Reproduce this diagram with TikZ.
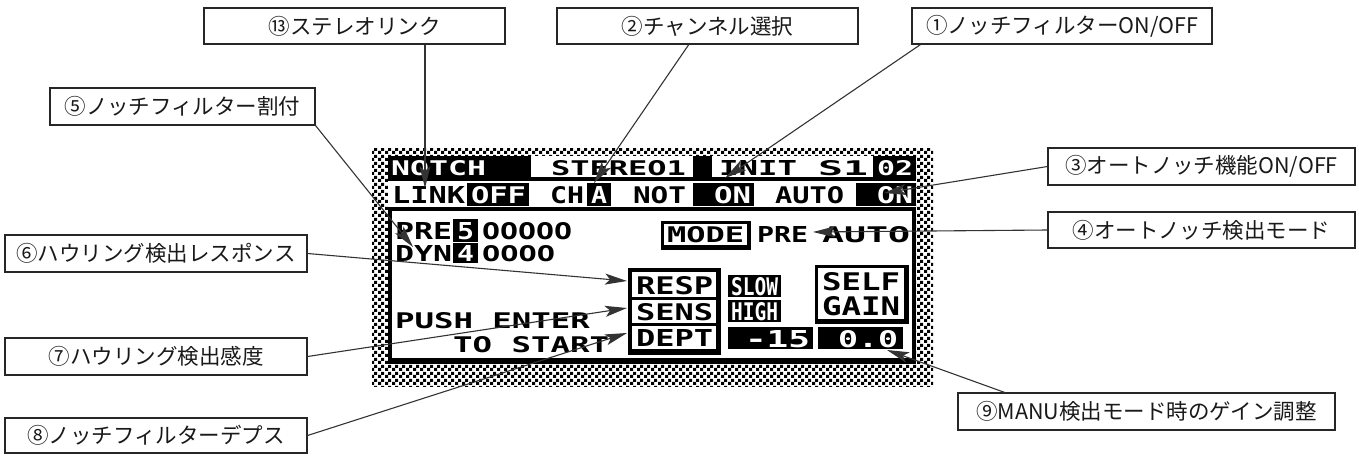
\documentclass[tikz,border=0pt]{standalone}
\usepackage{fontspec}
\usepackage{graphicx}
\usetikzlibrary{arrows.meta,calc,patterns}
\newfontfamily\cjk{Noto Sans CJK JP}
\newfontfamily\lcdfont{DejaVu Sans Mono Bold}
\pgfdeclarepatternformonly{lcdcheck}{\pgfpointorigin}{\pgfqpoint{7pt}{7pt}}{\pgfqpoint{7pt}{7pt}}{%
  \pgfpathrectangle{\pgfpointorigin}{\pgfqpoint{3.5pt}{3.5pt}}%
  \pgfpathrectangle{\pgfqpoint{3.5pt}{3.5pt}}{\pgfqpoint{3.5pt}{3.5pt}}%
  \pgfusepath{fill}}
% name, x1, y1, x2, y2, text, colour
\newcommand\lcdw[7]{\node[lcdtext,text=#7,anchor=north west] (#1) at (#2,#3)
  {\resizebox{\dimexpr#4pt-#2pt\relax}{\dimexpr#5pt-#3pt\relax}{\lcdfont #6}};}
\begin{document}
\begin{tikzpicture}[x=1pt,y=-1pt,
  lbl/.style={draw=black!85,line width=1.1pt,fill=white,inner sep=0pt,
    font=\cjk\fontsize{21.5}{25}\selectfont,text=black!90},
  lcdtext/.style={inner sep=0pt,outer sep=0pt},
  conn/.style={draw=black!80,line width=1.1pt,
    -{Stealth[length=22pt,width=11pt,inset=5pt]}}]
\useasboundingbox (0,0) rectangle (1359,455);

% ---------- LCD ----------
\fill[white] (372,148) rectangle (933,386);
\fill[pattern=lcdcheck,pattern color=black] (372,148) rectangle (933,386);
\fill[white] (388,156) rectangle (916,363);
% row 1
\fill[black] (388,156) rectangle (531,178);
\fill[black] (693,156) rectangle (712,178);
\fill[black] (873,156) rectangle (916,178);
\fill[black] (388,177) rectangle (916,181);
\lcdw{tNotch}{391}{160}{486}{175}{NOTCH}{white}
\lcdw{tStereo}{551}{160}{686}{175}{STEREO1}{black}
\lcdw{tInit}{719}{160}{797}{175}{INIT}{black}
\lcdw{tSone}{818}{160}{868}{175}{S1}{black}
\lcdw{tZtwo}{877}{160}{913}{175}{02}{white}
% row 2
\lcdw{tLink}{392}{186}{465}{203}{LINK}{black}
\fill[black] (467,183) rectangle (529,206);
\lcdw{tOff}{471}{186}{526}{203}{OFF}{white}
\lcdw{tCh}{550}{186}{584}{203}{CH}{black}
\fill[black] (587,183) rectangle (611,206);
\lcdw{tA}{591}{186}{607}{203}{A}{white}
\lcdw{tNot}{633}{186}{686}{203}{NOT}{black}
\fill[black] (693,183) rectangle (754,206);
\lcdw{tOnA}{714}{186}{751}{203}{ON}{white}
\lcdw{tAuto}{775}{186}{844}{203}{AUTO}{black}
\fill[black] (856,183) rectangle (916,206);
\lcdw{tOnB}{877}{186}{913}{203}{ON}{white}
% panel frame
\fill[black] (388,207) rectangle (916,364);
\fill[white] (392,211) rectangle (912,358);
% PRE / DYN
\lcdw{tPre}{395}{222}{452}{239}{PRE}{black}
\fill[black] (453,219) rectangle (478,242);
\lcdw{tFive}{457}{222}{474}{239}{5}{white}
\lcdw{tOs}{482}{222}{572}{239}{OOOOO}{black}
\lcdw{tDyn}{395}{245}{452}{261}{DYN}{black}
\fill[black] (453,243) rectangle (478,263);
\lcdw{tFour}{457}{245}{474}{261}{4}{white}
\lcdw{tOf}{482}{245}{555}{261}{OOOO}{black}
% MODE
\fill[black] (661,221) rectangle (751,250);
\fill[white] (664,224) rectangle (747,245);
\lcdw{tMode}{667}{226}{744}{242}{MODE}{black}
\lcdw{tPreB}{757}{226}{808}{242}{PRE}{black}
\lcdw{tAutoB}{822}{226}{910}{242}{AUTO}{black}
% RESP / SENS / DEPT
\fill[black] (628,268) rectangle (721,355);
\fill[white] (632,272) rectangle (716,297);
\fill[white] (632,300) rectangle (716,323);
\fill[white] (632,326) rectangle (716,349);
\lcdw{tResp}{636}{276}{713}{294}{RESP}{black}
\lcdw{tSens}{636}{303}{713}{320}{SENS}{black}
\lcdw{tDept}{636}{329}{713}{346}{DEPT}{black}
% SLOW / HIGH
\fill[black] (728,275) rectangle (781,297);
\lcdw{tSlow}{731}{277}{778}{295}{SLOW}{white}
\fill[black] (728,300) rectangle (781,322);
\lcdw{tHigh}{731}{302}{778}{320}{HIGH}{white}
% SELF GAIN
\fill[black] (815,265) rectangle (909,324);
\fill[white] (818,268) rectangle (904,319);
\lcdw{tSelf}{822}{272}{900}{290}{SELF}{black}
\lcdw{tGain}{822}{296}{900}{315}{GAIN}{black}
% -15 / 0.0
\fill[black] (728,327) rectangle (813,349);
\lcdw{tMft}{745}{330}{810}{347}{-15}{white}
\fill[black] (818,327) rectangle (903,349);
\lcdw{tZz}{838}{330}{898}{347}{0.0}{white}
% PUSH ENTER TO START
\lcdw{tPush}{395}{312}{590}{328}{PUSH ENTER}{black}
\lcdw{tStart}{453}{336}{609}{352}{TO START}{black}

% ---------- labels ----------
\node[lbl,minimum width=301pt,minimum height=36pt] (n13) at (354.5,26) {⑬ステレオリンク};
\node[lbl,minimum width=301pt,minimum height=36pt] (n2) at (707.5,26) {②チャンネル選択};
\node[lbl,minimum width=300pt,minimum height=36pt] (n1) at (1062,26) {①ノッチフィルターON/OFF};
\node[lbl,minimum width=265pt,minimum height=37pt] (n5) at (182.5,106.5) {⑤ノッチフィルター割付};
\node[lbl,minimum width=307pt,minimum height=37pt] (n3) at (1201.5,166.5) {③オートノッチ機能ON/OFF};
\node[lbl,minimum width=307pt,minimum height=36pt] (n4) at (1201.5,230) {④オートノッチ検出モード};
\node[lbl,minimum width=302pt,minimum height=37pt] (n6) at (156,253.5) {⑥ハウリング検出レスポンス};
\node[lbl,minimum width=302pt,minimum height=37pt] (n7) at (156,356.5) {⑦ハウリング検出感度};
\node[lbl,minimum width=302pt,minimum height=35pt] (n8) at (156,435.5) {⑧ノッチフィルターデプス};
\node[lbl,minimum width=377pt,minimum height=37pt] (n9) at (1146.5,411.5) {⑨MANU検出モード時のゲイン調整};

% ---------- arrow tips ----------
\coordinate (t13) at (425,188);
\coordinate (t2) at (594,183);
\coordinate (t1) at (725,178);
\coordinate (t5) at (413,247);
\coordinate (t3) at (884,193);
\coordinate (t4) at (813,232);
\coordinate (t6) at (627,281);
\coordinate (t7) at (627,308);
\coordinate (t8) at (627,333);
\coordinate (t9) at (887,350);

% ---------- connectors ----------
\draw[conn] (n13.south -| t13) -- (t13);
\draw[conn] ($(n2.south west)!0.438!(n2.south east)$) -- (t2);
\draw[conn] ($(n1.south west)!0.03!(n1.south east)$) -- (t1);
\draw[conn] (n5.south east) -- (t5);
\draw[conn] (n3.west) -- (t3);
\draw[conn] (n4.west) -- (t4);
\draw[conn] (n6.east) -- (t6);
\draw[conn] (n7.east) -- (t7);
\draw[conn] (n8.east) -- (t8);
\draw[conn] ($(n9.north west)!0.125!(n9.north east)$) -- (t9);
\end{tikzpicture}
\end{document}
